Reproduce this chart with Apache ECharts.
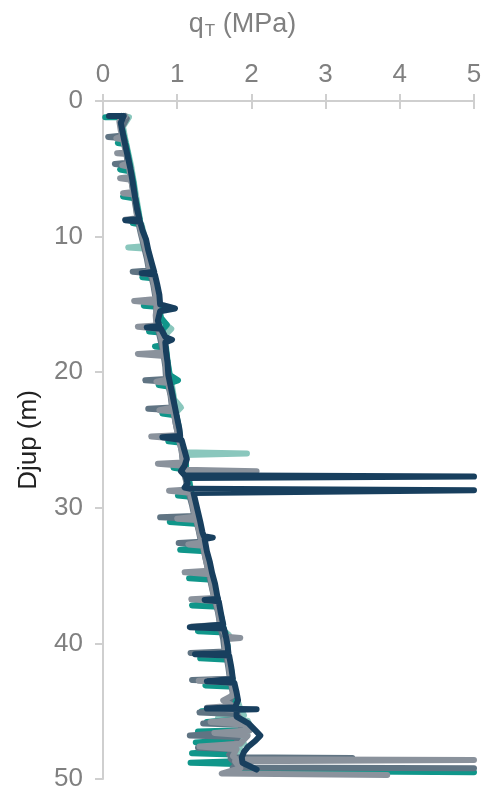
<!DOCTYPE html>
<html>
<head>
<meta charset="utf-8">
<script src="https://cdn.jsdelivr.net/npm/echarts@6/dist/echarts.min.js"></script>
<style>html,body{margin:0;padding:0;background:#fff}#c{width:485px;height:793px}</style>
</head>
<body>
<div id="c"></div>
<script>
// x tick labels (q_T, MPa) and y tick labels (depth, m)
const xTicks = [0, 1, 2, 3, 4, 5];
const yTicks = [0, 10, 20, 30, 40, 50];
const seriesNames = ['Light teal', 'Teal', 'Slate', 'Grey', 'Navy'];

// each point: [qT (MPa), depth (m)]
const lightTeal = [[0.28,1.1],[0.35,1.2],[0.27,1.9],[0.30,2.8],[0.34,3.8],[0.38,4.8],[0.41,5.8],[0.44,6.8],[0.47,7.8],[0.50,8.8],[0.40,9.0],[0.52,9.1],[0.56,10.0],[0.59,10.7],[0.34,10.8],[0.60,10.9],[0.64,11.8],[0.68,12.8],[0.72,13.8],[0.74,14.8],[0.76,15.8],[0.85,16.5],[0.92,16.8],[0.85,17.2],[0.84,18.0],[0.86,19.0],[0.89,20.0],[0.93,21.0],[0.96,22.0],[1.05,22.6],[0.98,23.0],[1.01,24.0],[1.04,25.0],[1.08,25.9],[1.94,26.0],[1.10,26.1],[1.12,27.0],[1.16,28.0],[1.20,29.0],[1.24,30.0],[1.29,31.0],[1.33,32.0],[1.37,33.0],[1.41,34.0],[1.45,35.0],[1.50,36.0],[1.54,37.0],[1.58,38.0],[1.62,39.0],[1.70,39.4],[1.66,40.0],[1.69,41.0],[1.72,42.0],[1.76,43.0],[1.80,44.0],[1.85,44.8],[1.90,45.3],[1.55,45.5],[1.95,45.7],[2.00,46.3],[1.85,46.9],[1.90,47.4],[1.55,47.6],[1.85,47.8],[1.82,48.7],[1.45,48.8],[1.80,48.9],[1.92,49.2]];
const teal = [[0.03,1.2],[0.22,1.2],[0.25,1.8],[0.28,2.6],[0.30,3.0],[0.20,3.1],[0.31,3.2],[0.34,4.0],[0.37,4.9],[0.23,5.05],[0.38,5.2],[0.41,6.0],[0.43,6.9],[0.27,7.05],[0.44,7.2],[0.47,8.0],[0.50,8.9],[0.40,9.0],[0.51,9.1],[0.55,10.0],[0.59,10.9],[0.62,11.7],[0.66,12.6],[0.68,12.9],[0.53,13.0],[0.70,13.1],[0.73,14.0],[0.75,14.9],[0.55,15.1],[0.76,15.2],[0.78,16.0],[0.86,16.5],[0.80,16.9],[0.62,17.0],[0.81,17.1],[0.83,18.0],[0.70,18.1],[0.85,18.2],[0.87,19.2],[0.90,20.2],[1.01,20.6],[0.90,20.8],[0.75,20.95],[0.92,21.1],[0.95,22.0],[0.97,22.9],[0.80,23.05],[0.99,23.2],[1.02,24.0],[1.04,24.9],[0.88,25.1],[1.06,25.2],[1.10,26.0],[1.12,26.9],[0.95,27.05],[1.13,27.2],[1.16,28.0],[1.19,28.9],[1.01,29.1],[1.21,29.2],[1.25,30.1],[1.27,30.9],[0.90,31.05],[1.29,31.2],[1.33,32.0],[1.36,32.9],[1.04,33.1],[1.38,33.2],[1.41,34.0],[1.45,35.0],[1.16,35.2],[1.47,35.3],[1.51,36.2],[1.53,37.0],[1.20,37.2],[1.56,37.3],[1.60,38.2],[1.63,39.0],[1.28,39.1],[1.65,39.2],[1.68,40.2],[1.68,41.0],[1.31,41.1],[1.70,41.2],[1.73,42.0],[1.75,43.0],[1.38,43.1],[1.77,43.2],[1.80,44.0],[1.70,44.4],[1.76,44.9],[1.33,45.0],[1.78,45.1],[1.82,45.6],[1.40,45.8],[1.88,45.9],[1.86,46.4],[1.28,46.5],[1.84,46.6],[1.78,47.1],[1.25,47.3],[1.75,47.4],[1.72,47.9],[1.20,48.1],[1.76,48.2],[1.80,48.7],[1.18,48.8],[1.85,48.9],[1.90,49.4],[5,49.5]];
const slate = [[0.25,1.1],[0.32,1.3],[0.25,2.0],[0.27,2.55],[0.07,2.65],[0.28,2.75],[0.31,3.6],[0.33,4.55],[0.16,4.65],[0.35,4.75],[0.38,5.8],[0.41,6.8],[0.44,7.8],[0.47,8.8],[0.51,9.8],[0.55,10.7],[0.59,11.6],[0.62,12.5],[0.40,12.6],[0.64,12.7],[0.68,13.6],[0.71,14.6],[0.72,15.6],[0.73,16.5],[0.77,17.5],[0.81,18.5],[0.84,19.6],[0.85,20.5],[0.57,20.6],[0.87,20.7],[0.91,21.7],[0.93,22.6],[0.61,22.7],[0.95,22.8],[0.98,23.8],[1.02,24.8],[1.06,25.8],[1.08,26.8],[1.11,27.8],[1.15,28.8],[1.20,29.8],[1.23,30.6],[0.77,30.7],[1.25,30.8],[1.29,31.7],[1.32,32.5],[1.02,32.6],[1.34,32.7],[1.38,33.7],[1.42,34.7],[1.46,35.7],[1.50,36.7],[1.55,37.7],[1.58,38.7],[1.62,39.7],[1.64,40.6],[1.18,40.7],[1.66,40.8],[1.69,41.8],[1.71,42.6],[1.20,42.7],[1.72,42.8],[1.75,43.7],[1.70,44.3],[1.72,44.9],[1.30,45.1],[1.78,45.2],[1.80,45.7],[1.35,45.9],[1.85,46.0],[1.88,46.5],[1.17,46.8],[1.82,46.9],[1.80,47.4],[1.28,47.7],[1.78,47.8],[1.70,48.2],[1.75,48.4],[3.36,48.45],[1.72,48.5],[1.80,48.9],[1.75,49.15],[5,49.2]];
const grey = [[0.30,1.1],[0.22,1.5],[0.24,2.2],[0.26,2.6],[0.18,2.75],[0.27,2.85],[0.30,3.6],[0.31,3.8],[0.19,3.85],[0.32,3.9],[0.34,4.6],[0.26,4.75],[0.35,4.85],[0.37,5.6],[0.23,5.7],[0.38,5.8],[0.41,6.7],[0.27,6.8],[0.42,6.9],[0.45,7.8],[0.46,8.65],[0.30,8.75],[0.48,8.85],[0.52,9.8],[0.56,10.6],[0.60,11.5],[0.63,12.55],[0.52,12.7],[0.66,12.8],[0.69,13.6],[0.72,14.6],[0.42,14.75],[0.73,14.9],[0.71,15.8],[0.72,16.55],[0.47,16.65],[0.75,16.8],[0.79,17.6],[0.82,18.55],[0.47,18.65],[0.83,18.8],[0.85,19.6],[0.86,20.55],[0.72,20.7],[0.88,20.8],[0.92,21.8],[0.94,22.6],[0.76,22.8],[0.95,22.9],[0.98,23.8],[1.01,24.65],[0.65,24.75],[1.02,24.9],[1.06,25.8],[1.08,26.65],[0.74,26.75],[1.08,26.9],[1.10,27.2],[2.07,27.3],[1.10,27.4],[1.12,28.0],[1.15,28.65],[0.89,28.75],[1.17,28.9],[1.21,29.8],[1.24,30.65],[1.00,30.8],[1.26,30.9],[1.30,31.8],[1.33,32.55],[1.15,32.7],[1.35,32.8],[1.38,33.7],[1.42,34.65],[1.10,34.75],[1.44,34.9],[1.47,35.8],[1.50,36.65],[1.19,36.75],[1.52,36.9],[1.56,37.8],[1.58,38.65],[1.20,38.75],[1.60,38.9],[1.66,39.5],[1.85,39.6],[1.64,39.7],[1.65,40.65],[1.32,40.8],[1.68,40.9],[1.70,41.8],[1.72,42.65],[1.29,42.75],[1.73,42.9],[1.76,43.8],[1.62,44.2],[1.75,44.6],[1.40,44.75],[1.78,44.9],[1.85,45.6],[1.45,45.8],[1.90,46.0],[1.98,46.4],[1.50,46.6],[1.95,46.8],[1.85,47.4],[1.30,47.6],[1.80,47.8],[1.75,48.3],[1.80,48.55],[5,48.6],[1.78,48.7],[1.85,49.2],[1.60,49.6],[3.83,49.7]];
const navy = [[0.08,1.1],[0.28,1.1],[0.24,1.6],[0.26,2.2],[0.29,3.0],[0.33,4.0],[0.37,5.0],[0.40,6.0],[0.43,7.0],[0.46,8.0],[0.49,8.7],[0.30,8.8],[0.50,8.9],[0.53,9.5],[0.58,10.2],[0.61,11.0],[0.66,12.0],[0.69,12.6],[0.52,12.7],[0.70,12.8],[0.73,13.5],[0.76,14.3],[0.77,15.0],[0.97,15.3],[0.77,15.5],[0.74,16.2],[0.76,16.6],[0.59,16.7],[0.78,16.8],[0.84,17.4],[0.93,17.6],[0.84,17.8],[0.85,18.5],[0.87,19.3],[0.88,20.2],[0.91,21.0],[0.94,21.8],[0.97,22.6],[1.00,23.4],[1.03,24.2],[1.04,24.7],[0.80,24.8],[1.06,25.0],[1.10,25.8],[1.13,26.4],[1.10,26.9],[1.05,27.3],[1.10,27.6],[5,27.7],[1.12,27.8],[1.14,28.2],[1.10,28.5],[1.18,28.6],[5,28.7],[1.22,28.9],[1.25,29.6],[1.28,30.3],[1.31,31.0],[1.34,31.8],[1.36,32.1],[1.48,32.2],[1.37,32.3],[1.40,33.2],[1.44,34.0],[1.47,34.8],[1.51,35.6],[1.54,36.5],[1.55,36.7],[1.37,36.8],[1.56,36.9],[1.59,37.8],[1.62,38.6],[1.17,38.8],[1.63,38.9],[1.66,39.6],[1.68,40.2],[1.69,40.7],[1.24,40.8],[1.70,40.9],[1.73,41.8],[1.75,42.6],[1.40,42.8],[1.77,42.9],[1.80,43.6],[1.82,44.2],[1.78,44.7],[1.40,44.8],[2.07,44.85],[1.80,44.9],[1.80,45.4],[1.96,45.9],[2.05,46.4],[2.12,46.8],[2.05,47.2],[1.96,47.6],[1.90,48.0],[1.87,48.4],[1.88,48.8],[2.07,49.3]];

const seriesData = [lightTeal, teal, slate, grey, navy];
const colors = ['#8ac7bd', '#10968a', '#607483', '#8a929c', '#183f5e'];

const FONT = '"Liberation Sans", Arial, sans-serif';
const LABEL = '#808080';
const AXIS = '#cfcfcf';

const chart = echarts.init(document.getElementById('c'), null, {renderer: 'canvas'});
chart.setOption({
  animation: false,
  backgroundColor: '#fff',
  title: {
    text: '{q|q}{s|T}{q| (MPa)}', left: 'center', top: 5,
    textStyle: {color: LABEL, fontFamily: FONT, fontWeight: 'normal', rich: {
      q: {fontSize: 27, color: LABEL, fontFamily: FONT, fontWeight: 'normal'},
      s: {fontSize: 17, color: LABEL, fontFamily: FONT, fontWeight: 'normal', padding: [13, 0, 0, 1]}
    }}
  },
  grid: {left: 103, right: 11, top: 101, bottom: 14, containLabel: false},
  xAxis: [{
    type: 'value', position: 'top', min: xTicks[0], max: xTicks[xTicks.length - 1], interval: 1,
    axisLine: {show: true, lineStyle: {color: AXIS, width: 2}},
    axisTick: {show: true, length: 7, lineStyle: {color: AXIS, width: 2}},
    axisLabel: {color: LABEL, fontSize: 26, fontFamily: FONT, margin: 13},
    splitLine: {show: false}
  }, {
    type: 'value', position: 'top', min: xTicks[0], max: xTicks[xTicks.length - 1], interval: 1,
    axisLine: {show: false},
    axisTick: {show: true, inside: true, length: 8, lineStyle: {color: AXIS, width: 2}},
    axisLabel: {show: false}, splitLine: {show: false}
  }],
  yAxis: [{
    type: 'value', inverse: true, min: yTicks[0], max: yTicks[yTicks.length - 1], interval: 10,
    name: 'Djup (m)', nameLocation: 'middle', nameGap: 61, nameRotate: 90,
    nameTextStyle: {color: '#222', fontSize: 26, fontFamily: FONT},
    axisLine: {show: true, lineStyle: {color: AXIS, width: 2}},
    axisTick: {show: true, length: 7, lineStyle: {color: AXIS, width: 2}},
    axisLabel: {color: LABEL, fontSize: 26, fontFamily: FONT, margin: 20},
    splitLine: {show: false}
  }, {
    type: 'value', inverse: true, min: yTicks[0], max: yTicks[yTicks.length - 1], interval: 10,
    axisLine: {show: false},
    axisTick: {show: true, inside: true, length: 8, lineStyle: {color: AXIS, width: 2}},
    axisLabel: {show: false}, splitLine: {show: false}
  }],
  series: seriesData.map((d, i) => ({
    name: seriesNames[i], type: 'line', data: d, xAxisIndex: 0, yAxisIndex: 0,
    showSymbol: false, symbol: 'none', clip: true,
    lineStyle: {color: colors[i], width: 6, cap: 'round', join: 'round'},
    z: 2 + i
  }))
});
</script>
</body>
</html>
